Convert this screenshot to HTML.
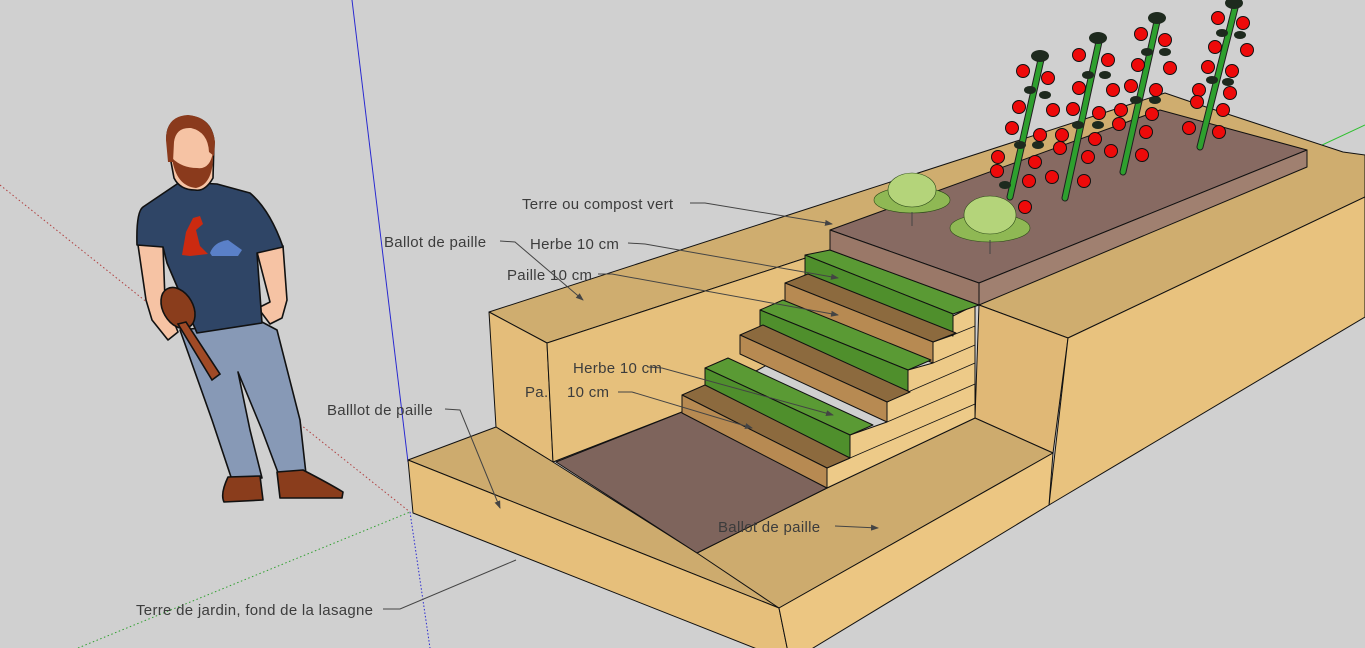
<!DOCTYPE html>
<html><head><meta charset="utf-8"><style>
html,body{margin:0;padding:0;background:#d0d0d0;}
svg{display:block}
text{font-family:"Liberation Sans","DejaVu Sans",sans-serif;font-size:15px;letter-spacing:0.3px;fill:#3c3c3c}
</style></head><body>
<svg width="1365" height="648" viewBox="0 0 1365 648" xmlns="http://www.w3.org/2000/svg">
<defs><marker id="ah" markerWidth="8" markerHeight="6" refX="7" refY="3" orient="auto" markerUnits="userSpaceOnUse"><path d="M0,0 L8,3 L0,6Z" fill="#444"/></marker></defs>
<rect width="1365" height="648" fill="#d0d0d0"/>
<line x1="352" y1="0" x2="408" y2="462" stroke="#2a2ad0" stroke-width="1"/>
<line x1="410" y1="512" x2="430" y2="648" stroke="#2a2ad0" stroke-width="1" stroke-dasharray="1.5,2"/>
<line x1="0" y1="185" x2="410" y2="512" stroke="#b04040" stroke-width="1" stroke-dasharray="1.5,2.5"/>
<line x1="78" y1="648" x2="410" y2="512" stroke="#30a030" stroke-width="1" stroke-dasharray="1.5,2.5"/>
<line x1="1305" y1="153" x2="1365" y2="125" stroke="#30c030" stroke-width="1"/>

<g stroke="#111" stroke-width="1" stroke-linejoin="round">
<polygon points="489,312 1165,93 1200,105 1343,152 1365,155 1365,197 1068,338 979,305 830,250 547,343" fill="#cfad6f"/>
<polygon points="979,305 1068,338 1053,453 975,418" fill="#e0b876"/>
<polygon points="1068,338 1365,197 1365,317 1049,505" fill="#e8c27e"/>
<polygon points="489,312 547,343 553,462 496,427" fill="#e4bd7a"/>
<polygon points="547,343 830,250 830,330 682,412 553,462" fill="#e6c07c"/>
<polygon points="408,460 496,427 553,462 697,553 827,488 975,418 1053,453 779,608" fill="#cdab6e"/>
<line x1="697" y1="553" x2="779" y2="608"/>
<polygon points="556,462 682,412 827,488 697,553" fill="#7e645c"/>
<polygon points="408,460 779,608 790,662 413,513" fill="#e6bf7b"/>
<polygon points="779,608 1053,453 1049,505 790,662" fill="#ecc682"/>
<polygon points="975,305 953,316 953,335 933,342 933,363 908,370 908,392 887,402 887,422 850,435 850,458 827,468 827,488 975,418" fill="#edca88"/>
</g>
<g stroke="#111" stroke-width="0.8" fill="none">
<line x1="953" y1="335" x2="975" y2="326"/>
<line x1="933" y1="363" x2="975" y2="345"/>
<line x1="908" y1="392" x2="975" y2="363"/>
<line x1="887" y1="422" x2="975" y2="384"/>
<line x1="850" y1="458" x2="975" y2="404"/>
</g>
<g stroke="#111" stroke-width="1" stroke-linejoin="round">
<polygon points="805,255 830,250 979,305 953,314" fill="#5a9a34"/>
<polygon points="805,255 953,314 953,336 805,277" fill="#4f8f2c"/>
<polygon points="785,283 933,342 956,333 808,274" fill="#8c6a3e"/>
<polygon points="785,283 933,342 933,363 785,303" fill="#b78a52"/>
<polygon points="760,310 908,370 931,360 783,300" fill="#5a9a34"/>
<polygon points="760,310 908,370 908,392 760,332" fill="#4f8f2c"/>
<polygon points="740,335 887,402 910,392 763,325" fill="#8c6a3e"/>
<polygon points="740,335 887,402 887,422 740,354" fill="#b78a52"/>
<polygon points="705,368 850,435 873,425 728,358" fill="#5a9a34"/>
<polygon points="705,368 850,435 850,458 705,392" fill="#4f8f2c"/>
<polygon points="682,395 827,468 850,458 705,385" fill="#8c6a3e"/>
<polygon points="682,395 827,468 827,488 682,413" fill="#b78a52"/>
<polygon points="830,230 1160,110 1307,150 979,283" fill="#876a62"/>
<polygon points="830,230 979,283 979,305 830,250" fill="#9a7868"/>
<polygon points="979,283 1307,150 1307,167 979,305" fill="#a08070"/>
</g>

<g stroke="#2c4a18" stroke-width="0.6">
<ellipse cx="912" cy="200" rx="38" ry="13" fill="#8fb854"/>
<ellipse cx="912" cy="190" rx="24" ry="17" fill="#b4d47a"/>
<ellipse cx="990" cy="228" rx="40" ry="14" fill="#8fb854"/>
<ellipse cx="990" cy="215" rx="26" ry="19" fill="#b4d47a"/>
</g>
<line x1="912" y1="212" x2="912" y2="226" stroke="#444"/>
<line x1="990" y1="240" x2="990" y2="254" stroke="#444"/>

<g stroke-linecap="round">
<line x1="1010" y1="197" x2="1042" y2="55" stroke="#1f1f1f" stroke-width="7"/>
<line x1="1010" y1="197" x2="1042" y2="55" stroke="#2ea02e" stroke-width="5"/>
<line x1="1065" y1="198" x2="1100" y2="37" stroke="#1f1f1f" stroke-width="7"/>
<line x1="1065" y1="198" x2="1100" y2="37" stroke="#2ea02e" stroke-width="5"/>
<line x1="1123" y1="172" x2="1158" y2="17" stroke="#1f1f1f" stroke-width="7"/>
<line x1="1123" y1="172" x2="1158" y2="17" stroke="#2ea02e" stroke-width="5"/>
<line x1="1200" y1="147" x2="1237" y2="0" stroke="#1f1f1f" stroke-width="7"/>
<line x1="1200" y1="147" x2="1237" y2="0" stroke="#2ea02e" stroke-width="5"/>
</g>
<g fill="#1e2a1e">
<ellipse cx="1040" cy="56" rx="9" ry="6"/><ellipse cx="1030" cy="90" rx="6" ry="4"/><ellipse cx="1045" cy="95" rx="6" ry="4"/><ellipse cx="1020" cy="145" rx="6" ry="4"/><ellipse cx="1038" cy="145" rx="6" ry="4"/><ellipse cx="1005" cy="185" rx="6" ry="4"/>
<ellipse cx="1098" cy="38" rx="9" ry="6"/><ellipse cx="1088" cy="75" rx="6" ry="4"/><ellipse cx="1105" cy="75" rx="6" ry="4"/><ellipse cx="1078" cy="125" rx="6" ry="4"/><ellipse cx="1098" cy="125" rx="6" ry="4"/>
<ellipse cx="1157" cy="18" rx="9" ry="6"/><ellipse cx="1147" cy="52" rx="6" ry="4"/><ellipse cx="1165" cy="52" rx="6" ry="4"/><ellipse cx="1136" cy="100" rx="6" ry="4"/><ellipse cx="1155" cy="100" rx="6" ry="4"/>
<ellipse cx="1234" cy="3" rx="9" ry="6"/><ellipse cx="1222" cy="33" rx="6" ry="4"/><ellipse cx="1240" cy="35" rx="6" ry="4"/><ellipse cx="1212" cy="80" rx="6" ry="4"/><ellipse cx="1228" cy="82" rx="6" ry="4"/>
</g>
<g fill="#ee0a0a" stroke="#111" stroke-width="1">
<circle cx="1023" cy="71" r="6.5"/><circle cx="1048" cy="78" r="6.5"/><circle cx="1019" cy="107" r="6.5"/><circle cx="1053" cy="110" r="6.5"/>
<circle cx="1012" cy="128" r="6.5"/><circle cx="1040" cy="135" r="6.5"/><circle cx="998" cy="157" r="6.5"/><circle cx="1035" cy="162" r="6.5"/>
<circle cx="997" cy="171" r="6.5"/><circle cx="1029" cy="181" r="6.5"/><circle cx="1025" cy="207" r="6.5"/>
<circle cx="1079" cy="55" r="6.5"/><circle cx="1108" cy="60" r="6.5"/><circle cx="1079" cy="88" r="6.5"/><circle cx="1113" cy="90" r="6.5"/>
<circle cx="1073" cy="109" r="6.5"/><circle cx="1099" cy="113" r="6.5"/><circle cx="1062" cy="135" r="6.5"/><circle cx="1095" cy="139" r="6.5"/>
<circle cx="1060" cy="148" r="6.5"/><circle cx="1088" cy="157" r="6.5"/><circle cx="1052" cy="177" r="6.5"/><circle cx="1084" cy="181" r="6.5"/>
<circle cx="1141" cy="34" r="6.5"/><circle cx="1165" cy="40" r="6.5"/><circle cx="1138" cy="65" r="6.5"/><circle cx="1170" cy="68" r="6.5"/>
<circle cx="1131" cy="86" r="6.5"/><circle cx="1156" cy="90" r="6.5"/><circle cx="1121" cy="110" r="6.5"/><circle cx="1152" cy="114" r="6.5"/>
<circle cx="1119" cy="124" r="6.5"/><circle cx="1146" cy="132" r="6.5"/><circle cx="1111" cy="151" r="6.5"/><circle cx="1142" cy="155" r="6.5"/>
<circle cx="1218" cy="18" r="6.5"/><circle cx="1243" cy="23" r="6.5"/><circle cx="1215" cy="47" r="6.5"/><circle cx="1247" cy="50" r="6.5"/>
<circle cx="1208" cy="67" r="6.5"/><circle cx="1232" cy="71" r="6.5"/><circle cx="1199" cy="90" r="6.5"/><circle cx="1230" cy="93" r="6.5"/>
<circle cx="1197" cy="102" r="6.5"/><circle cx="1223" cy="110" r="6.5"/><circle cx="1189" cy="128" r="6.5"/><circle cx="1219" cy="132" r="6.5"/>
</g>

<g stroke="#111" stroke-width="1.6" stroke-linejoin="round">
<polygon points="180,330 262,322 277,330 300,420 306,474 280,478 262,430 238,372 250,430 262,478 232,480 212,420" fill="#8799b6"/>
<path d="M228,477 L260,476 L263,500 L224,502 Q220,494 228,477Z" fill="#8a3d1c"/>
<path d="M277,472 L303,470 Q330,484 343,492 L342,498 L280,498Z" fill="#8a3d1c"/>
<path d="M138,245 L163,246 L165,300 L178,332 L168,340 L152,320 L146,300Z" fill="#f6c3a4"/>
<path d="M257,252 L283,246 L287,300 L282,318 L270,324 L258,308 L270,302Z" fill="#f6c3a4"/>
<path d="M180,182 L217,184 L250,193 Q270,210 283,247 L257,253 L262,323 L197,333 L167,263 L163,247 L137,245 Q136,212 143,207Z" fill="#2f4566"/>
<path d="M167,140 Q166,118 188,116 Q212,118 214,142 L213,178 Q205,192 195,190 Q180,190 174,178 Z" fill="#f6c3a4"/>
</g>
<path d="M166,140 Q166,116 188,115 Q212,117 215,142 L214,156 L209,152 Q208,132 191,128 Q176,127 174,142 L173,162 L168,162Z" fill="#8a3a1c"/>
<path d="M172,158 Q176,186 196,188 Q214,184 213,152 Q210,170 197,168 Q182,168 172,158Z" fill="#8a3a1c"/>
<g stroke="#111" stroke-width="1.6">
<ellipse cx="178" cy="308" rx="15" ry="22" transform="rotate(-30 178 308)" fill="#8a3d1c"/>
<polygon points="178,324 186,322 220,374 212,380" fill="#a04a26"/>
</g>
<path d="M182,255 L186,232 L193,218 L200,216 L203,224 L196,230 L200,246 L208,254 L190,256Z" fill="#cc2a10"/>
<path d="M210,253 Q214,242 228,240 L242,250 L238,256 L212,256Z" fill="#5a80c8"/>

<g stroke="#444" stroke-width="1" fill="none">
<polyline points="690,203 705,203 832,224" marker-end="url(#ah)"/>
<polyline points="500,241 515,242 583,300" marker-end="url(#ah)"/>
<polyline points="628,243 645,244 838,278" marker-end="url(#ah)"/>
<polyline points="598,274 612,274 838,315" marker-end="url(#ah)"/>
<polyline points="648,367 662,368 833,415" marker-end="url(#ah)"/>
<polyline points="618,392 632,392 752,428" marker-end="url(#ah)"/>
<polyline points="445,409 460,410 500,508" marker-end="url(#ah)"/>
<polyline points="835,526 878,528" marker-end="url(#ah)"/>
<polyline points="383,609 400,609 516,560"/>
</g>
<text x="522" y="209">Terre ou compost vert</text>
<text x="384" y="247">Ballot de paille</text>
<text x="530" y="249">Herbe 10 cm</text>
<text x="507" y="280">Paille 10 cm</text>
<text x="573" y="373">Herbe 10 cm</text>
<text x="525" y="397">Pa.</text>
<text x="567" y="397">10 cm</text>
<text x="327" y="415">Balllot de paille</text>
<text x="718" y="532">Ballot de paille</text>
<text x="136" y="615">Terre de jardin, fond de la lasagne</text>
</svg>
</body></html>
